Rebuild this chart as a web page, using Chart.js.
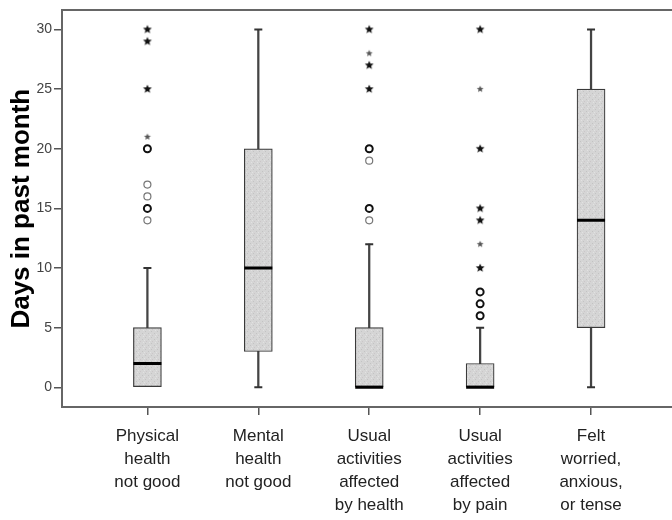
<!DOCTYPE html>
<html>
<head>
<meta charset="utf-8">
<script src="https://cdn.jsdelivr.net/npm/chart.js@4.4.1/dist/chart.umd.min.js"></script>
<style>
  html, body { margin: 0; padding: 0; background: #fff; overflow: hidden; }
  #wrap { width: 672px; height: 520px; }
</style>
</head>
<body>
<div id="wrap"><canvas id="c" width="672" height="520"></canvas></div>
<script>
// Category labels (one entry per line)
const categories = [
  ["Physical", "health", "not good"],
  ["Mental", "health", "not good"],
  ["Usual", "activities", "affected", "by health"],
  ["Usual", "activities", "affected", "by pain"],
  ["Felt", "worried,", "anxious,", "or tense"]
];

// Five-number summaries per category
const whiskerLow  = [0, 0, 0, 0, 0];
const q1          = [0, 3, 0, 0, 5];
const median      = [2, 10, 0, 0, 14];
const q3          = [5, 20, 5, 2, 25];
const whiskerHigh = [10, 30, 12, 5, 30];

// Outliers (circles) and extreme values (stars)
const circleHeavy = [[15, 20], [], [15, 20], [6, 7, 8], []];
const circleLight = [[14, 16, 17], [], [14, 19], [], []];
const starHeavy   = [[25, 29, 30], [], [25, 27, 30], [10, 14, 15, 20, 30], []];
const starLight   = [[21], [], [28], [12, 25], []];

const yTicks = [0, 5, 10, 15, 20, 25, 30];

const FONT = "'Liberation Sans', Arial, Helvetica, sans-serif";

function pointsOf(groups) {
  const out = [];
  groups.forEach((vals, i) => vals.forEach(v => out.push({ x: i + 1, y: v })));
  return out;
}

function starImage(r, color) {
  const size = Math.ceil(r * 2 + 2);
  const cv = document.createElement('canvas');
  cv.width = size; cv.height = size;
  const g = cv.getContext('2d');
  const c = size / 2;
  g.beginPath();
  for (let k = 0; k < 10; k++) {
    const rad = k % 2 === 0 ? r : r * 0.45;
    const a = -Math.PI / 2 + k * Math.PI / 5;
    const px = c + rad * Math.cos(a), py = c + rad * Math.sin(a);
    k === 0 ? g.moveTo(px, py) : g.lineTo(px, py);
  }
  g.closePath();
  g.fillStyle = color;
  g.fill();
  return cv;
}

function stipple() {
  const cv = document.createElement('canvas');
  cv.width = 6; cv.height = 6;
  const g = cv.getContext('2d');
  g.fillStyle = '#d5d5d5';
  g.fillRect(0, 0, 6, 6);
  g.fillStyle = '#c3c3c3';
  g.fillRect(1, 1, 1, 1);
  g.fillRect(4, 3, 1, 1);
  g.fillStyle = '#cbc6c8';
  g.fillRect(2, 5, 1, 1);
  g.fillStyle = '#e2e2e2';
  g.fillRect(5, 0, 1, 1);
  g.fillRect(0, 4, 1, 1);
  return g.createPattern(cv, 'repeat');
}

const idx = categories.map((_, i) => i + 1);
const capPoints = [];
idx.forEach((x, i) => {
  capPoints.push({ x, y: whiskerHigh[i] });
  if (whiskerLow[i] < q1[i]) capPoints.push({ x, y: whiskerLow[i] });
});

const X_MIN = 0.23, X_MAX = 5.73;

new Chart(document.getElementById('c'), {
  type: 'bar',
  data: {
    datasets: [
      {
        type: 'bar',
        label: 'whisker',
        data: idx.map((x, i) => ({ x, y: [whiskerLow[i], whiskerHigh[i]] })),
        backgroundColor: '#444',
        borderWidth: 0,
        barThickness: 1.6,
        grouped: false,
        order: 6
      },
      {
        type: 'scatter',
        label: 'caps',
        data: capPoints,
        pointStyle: 'line',
        pointRadius: 4,
        borderColor: '#333',
        borderWidth: 2,
        order: 5
      },
      {
        type: 'bar',
        label: 'box',
        data: idx.map((x, i) => ({ x, y: [q1[i], q3[i]] })),
        backgroundColor: stipple(),
        borderColor: '#3a3a3a',
        borderWidth: 1.2,
        borderSkipped: false,
        barThickness: 28,
        grouped: false,
        order: 4
      },
      {
        type: 'scatter',
        label: 'median',
        data: idx.map((x, i) => ({ x, y: median[i] })),
        pointStyle: 'line',
        pointRadius: 14,
        borderColor: '#000',
        borderWidth: 3,
        order: 3
      },
      {
        type: 'scatter',
        label: 'outliers light',
        data: pointsOf(circleLight),
        pointStyle: 'circle',
        pointRadius: 3.5,
        borderColor: '#777',
        borderWidth: 1.2,
        backgroundColor: 'rgba(255,255,255,0)',
        order: 2
      },
      {
        type: 'scatter',
        label: 'outliers heavy',
        data: pointsOf(circleHeavy),
        pointStyle: 'circle',
        pointRadius: 3.5,
        borderColor: '#111',
        borderWidth: 2,
        backgroundColor: 'rgba(255,255,255,0)',
        order: 2
      },
      {
        type: 'scatter',
        label: 'extremes light',
        data: pointsOf(starLight),
        pointStyle: starImage(3.6, '#555'),
        pointRadius: 4,
        order: 1
      },
      {
        type: 'scatter',
        label: 'extremes heavy',
        data: pointsOf(starHeavy),
        pointStyle: starImage(4.6, '#111'),
        pointRadius: 5,
        order: 1
      }
    ]
  },
  options: {
    responsive: false,
    animation: false,
    devicePixelRatio: 1,
    events: [],
    layout: { autoPadding: false, padding: { top: 10, left: 0, right: 0, bottom: 0 } },
    plugins: { legend: { display: false }, tooltip: { enabled: false } },
    scales: {
      x: {
        type: 'linear',
        position: 'bottom',
        offset: false,
        min: X_MIN,
        max: X_MAX,
        afterBuildTicks: s => { s.ticks = idx.map(v => ({ value: v })); },
        afterFit: s => { s.height = 113; s.paddingRight = 0; },
        ticks: {
          callback: v => categories[v - 1],
          autoSkip: false,
          maxRotation: 0,
          padding: 10,
          color: '#222',
          font: { family: FONT, size: 17, lineHeight: 1.35 }
        },
        grid: { display: true, offset: false, drawOnChartArea: false, drawTicks: true, tickLength: 8, color: '#555', lineWidth: 1.5 },
        border: { display: true, color: '#666', width: 2 }
      },
      xTop: {
        type: 'linear',
        position: 'top',
        offset: false,
        min: X_MIN,
        max: X_MAX,
        afterFit: s => { s.height = 0; },
        ticks: { display: false },
        grid: { display: false, offset: false },
        border: { display: true, color: '#666', width: 2 }
      },
      y: {
        type: 'linear',
        min: -1.65,
        max: 31.6,
        afterBuildTicks: s => { s.ticks = yTicks.map(v => ({ value: v })); },
        afterFit: s => { s.width = 62; },
        ticks: {
          padding: 2,
          color: '#444',
          font: { family: FONT, size: 14 }
        },
        grid: { display: true, drawOnChartArea: false, drawTicks: true, tickLength: 8, color: '#555', lineWidth: 1.5 },
        border: { display: true, color: '#666', width: 2 },
        title: {
          display: true,
          text: 'Days in past month',
          color: '#000',
          padding: { top: 6, bottom: 0 },
          font: { family: FONT, size: 26, weight: 'bold' }
        }
      }
    }
  }
});
</script>
</body>
</html>
